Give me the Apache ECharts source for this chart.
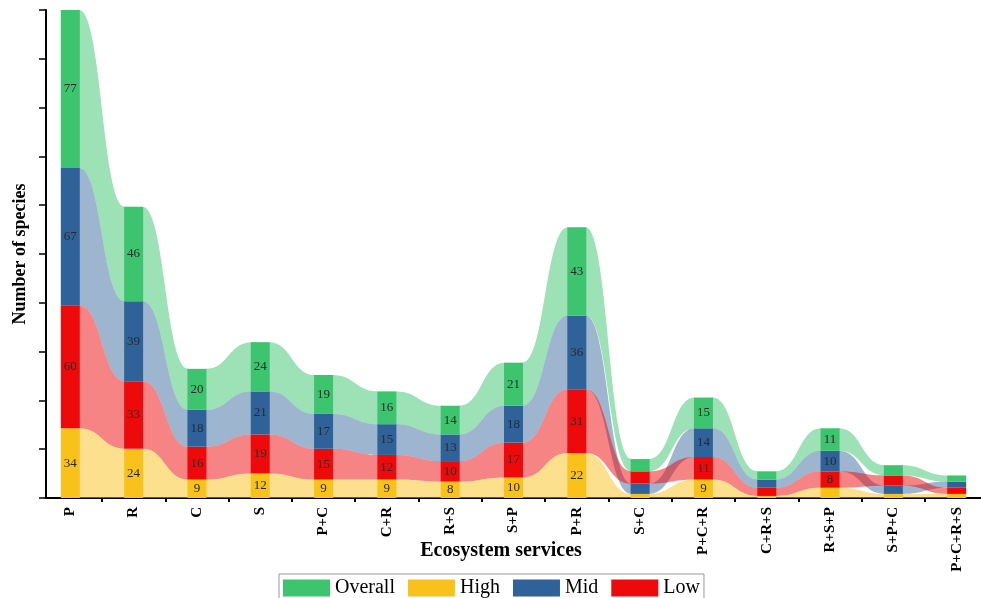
<!DOCTYPE html>
<html>
<head>
<meta charset="utf-8">
<script src="https://cdn.jsdelivr.net/npm/echarts@6/dist/echarts.min.js"></script>
<style>
html,body{margin:0;padding:0;background:#fff;}
#chart{width:981px;height:598px;}
</style>
</head>
<body>
<div id="chart"></div>
<script>
// ---- data ----
const categories = ['P','R','C','S','P+C','C+R','R+S','S+P','P+R','S+C','P+C+R','C+R+S','R+S+P','S+P+C','P+C+R+S'];
const high    = [34, 24,  9, 12,  9,  9,  8, 10, 22, 2,  9, 1,  5, 2, 2];
const low     = [60, 33, 16, 19, 15, 12, 10, 17, 31, 6, 11, 4,  8, 5, 3];
const mid     = [67, 39, 18, 21, 17, 15, 13, 18, 36, 5, 14, 4, 10, 4, 3];
const overall = [77, 46, 20, 24, 19, 16, 14, 21, 43, 6, 15, 4, 11, 5, 3];
const seriesNames = ['High','Low','Mid','Overall'];
const legendOrder = ['Overall','High','Mid','Low'];

// ---- styles ----
const barColors = { High:'#F9C21B', Low:'#EE0A0A', Mid:'#2E6298', Overall:'#3CC46E' };
const ribbonOpacity = { High:0.5, Low:0.5, Mid:0.47, Overall:0.5 };
const SERIF = '"Liberation Serif","Times New Roman",serif';
const HW = 0.15; // half bar width in category units
const LABEL_MIN = 8;

// ---- stacking: per category, sort segments ascending (stable) ----
const vals = { High:high, Low:low, Mid:mid, Overall:overall };
const bottoms = {}, tops = {};
seriesNames.forEach(s => { bottoms[s] = []; tops[s] = []; });
categories.forEach((c, i) => {
  const order = seriesNames.map((s, k) => ({ s, k, v: vals[s][i] }))
    .sort((a, b) => a.v - b.v || a.k - b.k);
  let acc = 0;
  order.forEach(o => { bottoms[o.s][i] = acc; acc += o.v; tops[o.s][i] = acc; });
});

function ribbonSeries(s) {
  const data = [];
  for (let i = 0; i < categories.length - 1; i++) {
    data.push([i, bottoms[s][i], tops[s][i], bottoms[s][i + 1], tops[s][i + 1]]);
  }
  return {
    type: 'custom', name: s + ' ribbon', silent: true, z: 1,
    data: data,
    encode: { x: 0, y: [1, 2] },
    renderItem: (params, api) => {
      const i = api.value(0);
      const a0 = api.coord([i + HW - 0.01, api.value(2)]);
      const a1 = api.coord([i + HW - 0.01, api.value(1)]);
      const b0 = api.coord([i + 1 - HW + 0.01, api.value(4)]);
      const b1 = api.coord([i + 1 - HW + 0.01, api.value(3)]);
      const xm = (a0[0] + b0[0]) / 2;
      const d = 'M' + a0[0] + ',' + a0[1] +
        ' C' + xm + ',' + a0[1] + ' ' + xm + ',' + b0[1] + ' ' + b0[0] + ',' + b0[1] +
        ' L' + b1[0] + ',' + b1[1] +
        ' C' + xm + ',' + b1[1] + ' ' + xm + ',' + a1[1] + ' ' + a1[0] + ',' + a1[1] + ' Z';
      return { type: 'path', shape: { pathData: d }, style: { fill: barColors[s], opacity: ribbonOpacity[s] } };
    }
  };
}

function barSeries(s) {
  return {
    type: 'custom', name: s, z: 3,
    itemStyle: { color: barColors[s] },
    data: categories.map((c, i) => [i, bottoms[s][i], tops[s][i], vals[s][i]]),
    encode: { x: 0, y: [1, 2] },
    renderItem: (params, api) => {
      const i = api.value(0), v = api.value(3);
      const p0 = api.coord([i - HW, api.value(2)]);
      const p1 = api.coord([i + HW, api.value(1)]);
      const el = {
        type: 'rect',
        shape: { x: p0[0], y: p0[1], width: p1[0] - p0[0], height: p1[1] - p0[1] },
        style: { fill: barColors[s] }
      };
      if (v >= LABEL_MIN) {
        el.textContent = { style: { text: String(v), fontFamily: SERIF, fontSize: 13, fill: '#2a2a2a' } };
        el.textConfig = { position: 'inside' };
      }
      return el;
    }
  };
}

const ribbonDrawOrder = ['Overall','Mid','Low','High'];
const series = ribbonDrawOrder.map(ribbonSeries).concat(seriesNames.map(barSeries));

const chart = echarts.init(document.getElementById('chart'), null, { renderer: 'canvas' });
chart.setOption({
  animation: false,
  backgroundColor: '#fff',
  grid: { left: 46, right: 0, top: 10, bottom: 100, containLabel: false, outerBoundsMode: 'none' },
  xAxis: {
    type: 'value', min: -0.384, max: 14.384,
    splitLine: { show: false },
    axisLine: { show: true, onZero: false, lineStyle: { color: '#000', width: 2 } },
    axisTick: { show: true, length: 4, lineStyle: { color: '#000', width: 2 },
      customValues: categories.slice(0, -1).map((c, i) => i + 0.5) },
    axisLabel: { show: true, rotate: 90, margin: 9, fontFamily: SERIF, fontWeight: 'bold', fontSize: 15, color: '#000',
      customValues: categories.map((c, i) => i),
      formatter: v => categories[Math.round(v)] },
  },
  yAxis: {
    type: 'value', min: 0, max: 238, interval: 23.8,
    name: 'Number of species', nameLocation: 'middle', nameGap: 17,
    nameTextStyle: { fontFamily: SERIF, fontWeight: 'bold', fontSize: 18, color: '#000' },
    splitLine: { show: false },
    axisLine: { show: true, onZero: false, lineStyle: { color: '#000', width: 2 } },
    axisTick: { show: true, length: 7, lineStyle: { color: '#000', width: 1.5 } },
    axisLabel: { show: false }
  },
  legend: {
    data: legendOrder, left: 279, top: 574, orient: 'horizontal',
    icon: 'rect', itemWidth: 47, itemHeight: 17, itemGap: 13,
    padding: [4, 4, 4, 4], borderColor: '#999', borderWidth: 1,
    textStyle: { fontFamily: SERIF, fontSize: 20, color: '#000' }
  },
  graphic: [{
    type: 'text', x: 501, y: 551,
    style: { text: 'Ecosystem services', fontFamily: SERIF, fontWeight: 'bold', fontSize: 20, fill: '#000',
      align: 'center', verticalAlign: 'middle' }
  }],
  series: series
});
</script>
</body>
</html>
